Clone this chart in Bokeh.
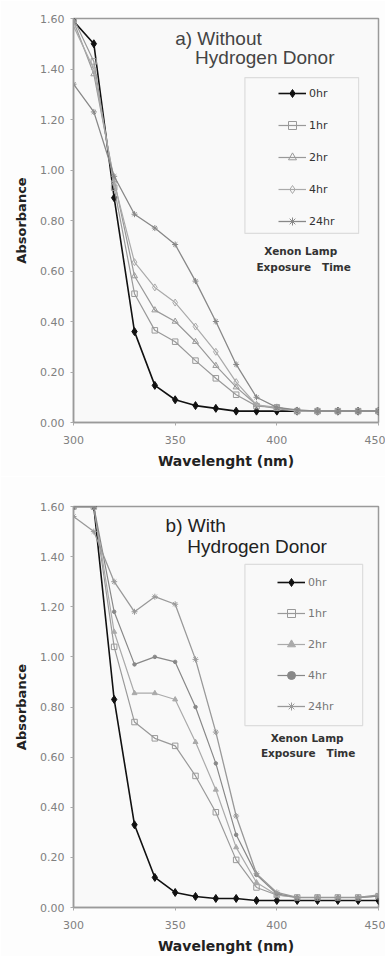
from bokeh.plotting import figure
from bokeh.models import (Legend, LegendItem, BoxAnnotation, Label, FixedTicker,
                          PrintfTickFormatter, Range1d)
from bokeh.layouts import column
from bokeh.embed import file_html
from bokeh.resources import INLINE

# ---------------- data ----------------
wavelength = [300, 310, 320, 330, 340, 350, 360, 370, 380, 390, 400, 410, 420, 430, 440, 450]
series_names = ["0hr", "1hr", "2hr", "4hr", "24hr"]
x_ticks = [300, 350, 400, 450]
y_ticks = [0.0, 0.2, 0.4, 0.6, 0.8, 1.0, 1.2, 1.4, 1.6]

# a) Without hydrogen donor
a_0hr = [1.59, 1.50, 0.89, 0.36, 0.147, 0.09, 0.067, 0.056, 0.045, 0.045, 0.045, 0.045, 0.045, 0.045, 0.045, 0.045]
a_1hr = [1.60, 1.43, 0.93, 0.51, 0.365, 0.32, 0.245, 0.175, 0.11, 0.065, 0.06, 0.045, 0.045, 0.045, 0.045, 0.045]
a_2hr = [1.59, 1.38, 0.96, 0.58, 0.445, 0.40, 0.32, 0.225, 0.14, 0.07, 0.055, 0.045, 0.045, 0.045, 0.045, 0.045]
a_4hr = [1.57, 1.40, 0.95, 0.635, 0.535, 0.475, 0.38, 0.28, 0.16, 0.07, 0.06, 0.045, 0.045, 0.045, 0.045, 0.045]
a_24hr = [1.34, 1.23, 0.975, 0.825, 0.77, 0.705, 0.56, 0.40, 0.23, 0.10, 0.06, 0.05, 0.045, 0.045, 0.045, 0.045]

# b) With hydrogen donor
b_0hr = [1.60, 1.60, 0.83, 0.33, 0.12, 0.06, 0.044, 0.036, 0.036, 0.028, 0.028, 0.028, 0.028, 0.028, 0.028, 0.028]
b_1hr = [1.60, 1.60, 1.04, 0.74, 0.675, 0.645, 0.525, 0.38, 0.19, 0.08, 0.05, 0.04, 0.04, 0.04, 0.04, 0.045]
b_2hr = [1.60, 1.60, 1.10, 0.855, 0.855, 0.83, 0.66, 0.47, 0.24, 0.10, 0.05, 0.04, 0.04, 0.04, 0.04, 0.045]
b_4hr = [1.60, 1.60, 1.18, 0.97, 1.00, 0.98, 0.80, 0.575, 0.29, 0.13, 0.055, 0.04, 0.04, 0.04, 0.04, 0.045]
b_24hr = [1.56, 1.50, 1.30, 1.18, 1.24, 1.21, 0.99, 0.70, 0.365, 0.135, 0.06, 0.04, 0.04, 0.04, 0.04, 0.05]

FONT = "DejaVu Sans"
NB = "\u00a0"


def make_panel(series, markers, title1, title2, height, borders, legend_loc,
               legend_spacing, box, title_pos, note_pos, title_color, legend_color):
    left, right, top, bottom = borders
    p = figure(width=385, height=height, output_backend="svg", toolbar_location=None,
               x_range=Range1d(300, 450), y_range=Range1d(0, 1.6),
               min_border_left=left, min_border_right=right,
               min_border_top=top, min_border_bottom=bottom,
               background_fill_color="#f9f9f9", border_fill_color="#fdfdfd")
    p.grid.visible = False
    p.outline_line_color = "#9a9a9a"
    p.outline_line_width = 1.5

    p.xaxis.ticker = FixedTicker(ticks=x_ticks)
    p.yaxis.ticker = FixedTicker(ticks=y_ticks)
    p.yaxis.formatter = PrintfTickFormatter(format="%.2f")
    for ax in (p.xaxis, p.yaxis):
        ax.axis_line_color = "#9a9a9a"
        ax.axis_line_width = 1.5
        ax.major_tick_in = 0
        ax.major_tick_out = 3
        ax.major_tick_line_color = "#aaaaaa"
        ax.minor_tick_line_color = None
        ax.major_label_text_font = FONT
        ax.major_label_text_font_size = "11px"
        ax.major_label_text_color = "#808080"
        ax.axis_label_text_font = FONT
        ax.axis_label_text_font_style = "bold"
        ax.axis_label_text_color = "#222222"
    p.xaxis.major_label_standoff = 10
    p.xaxis.axis_label = "Wavelenght (nm)"
    p.xaxis.axis_label_text_font_size = "14px"
    p.xaxis.axis_label_standoff = 6
    p.yaxis.major_label_standoff = 6
    p.yaxis.axis_label = "Absorbance"
    p.yaxis.axis_label_text_font_size = "13px"
    p.yaxis.axis_label_standoff = 8

    items = []
    for name, vals, (mk, size, fill, col, lw) in zip(series_names, series, markers):
        r1 = p.line(wavelength, vals, line_color=col, line_width=lw)
        r2 = p.scatter(wavelength, vals, marker=mk, size=size, line_color=col,
                       fill_color=fill, line_width=1.0)
        items.append(LegendItem(label=name, renderers=[r1, r2]))

    legend = Legend(items=items, location=legend_loc, orientation="vertical",
                    glyph_width=28, glyph_height=20, label_height=20,
                    spacing=legend_spacing, label_standoff=3, padding=0, margin=0,
                    border_line_color=None, background_fill_alpha=0,
                    label_text_font=FONT, label_text_font_size="11px",
                    label_text_color=legend_color)
    p.add_layout(legend)

    bl, br, bt, bb = box
    p.add_layout(BoxAnnotation(left=bl, right=br, top=bt, bottom=bb,
                               fill_color=None, line_color="#9a9a9a", line_width=1.2))

    (t1x, t1y), (t2x, t2y) = title_pos
    for txt, x, y in ((title1, t1x, t1y), (title2, t2x, t2y)):
        p.add_layout(Label(x=x, y=y, text=txt, text_font="Liberation Sans",
                           text_font_size="19px", text_color=title_color,
                           text_baseline="middle", text_align="left"))
    (n1x, n1y), (n2x, n2y) = note_pos
    for txt, x, y in (("Xenon Lamp", n1x, n1y),
                      ("Exposure" + NB * 3 + "Time", n2x, n2y)):
        p.add_layout(Label(x=x, y=y, text=txt, text_font=FONT, text_font_style="bold",
                           text_font_size="10.5px", text_color="#333333",
                           text_baseline="middle", text_align="center"))
    return p


markers_a = [("diamond", 8, "#111111", "#111111", 1.6),
             ("square", 5.5, None, "#999999", 1.2),
             ("triangle", 6, None, "#999999", 1.2),
             ("diamond", 7, None, "#aaaaaa", 1.2),
             ("asterisk", 6, None, "#888888", 1.3)]
markers_b = [("diamond", 8, "#111111", "#111111", 1.6),
             ("square", 5.5, None, "#999999", 1.2),
             ("triangle", 5, "#aaaaaa", "#aaaaaa", 1.2),
             ("circle", 3.5, "#888888", "#888888", 1.2),
             ("asterisk", 6, None, "#999999", 1.3)]

pa = make_panel([a_0hr, a_1hr, a_2hr, a_4hr, a_24hr], markers_a,
                "a) Without", "Hydrogen Donor", 476, (72, 7, 18, 54),
                (205, 191), 12, (384.3, 440.2, 1.366, 0.749),
                ((350.0, 1.521), (359.8, 1.446)), ((411.8, 0.681), (413.2, 0.614)),
                "#444444", "#333333")
pb = make_panel([b_0hr, b_1hr, b_2hr, b_4hr, b_24hr], markers_b,
                "b) With", "Hydrogen Donor", 480, (73, 4, 30, 49),
                (204, 191), 11, (384.3, 442.2, 1.369, 0.726),
                ((345.3, 1.524), (356.0, 1.44)), ((414.9, 0.678), (415.4, 0.618)),
                "#222222", "#777777")

layout = column(pa, pb, spacing=0)
open("out.html", "w").write(file_html(layout, INLINE))
